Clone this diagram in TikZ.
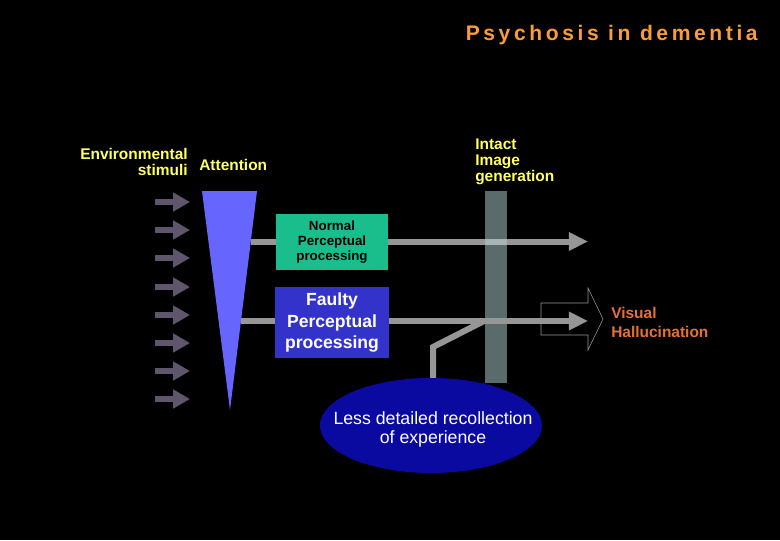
\documentclass[tikz,border=0pt]{standalone}
\usepackage{fontspec}
\setmainfont{Liberation Sans}
\newfontfamily\spacedfont[LetterSpace=17]{Liberation Sans}
\usetikzlibrary{arrows.meta,shapes.geometric}
\definecolor{titleorange}{RGB}{250,155,60}
\definecolor{hallorange}{RGB}{232,112,52}
\definecolor{labelyellow}{RGB}{255,255,102}
\definecolor{stimgray}{RGB}{95,86,110}
\definecolor{attblue}{RGB}{102,102,255}
\definecolor{normalgreen}{RGB}{26,190,140}
\definecolor{faultyblue}{RGB}{51,51,204}
\definecolor{linegray}{RGB}{150,150,150}
\definecolor{crossgray}{RGB}{170,180,180}
\definecolor{bargray}{RGB}{90,107,107}
\definecolor{recallblue}{RGB}{10,10,160}

\begin{document}
\begin{tikzpicture}[x=0.025cm,y=-0.025cm]
                    \tikzstyle{stimulus}=[line width=0.17cm,color=stimgray,-{Triangle[length=0.42cm,width=0.45cm]}]
                    \tikzstyle{pathline}=[line width=0.15cm,color=linegray]
                    \tikzstyle{patharrow}=[pathline,-{Triangle[length=0.48cm,width=0.44cm]}]
                    \tikzstyle{label}=[font=\bfseries\fontsize{11}{11.5}\selectfont,text=labelyellow,inner sep=0pt]
                    \tikzstyle{procbox}=[rectangle,inner sep=0pt,align=center]
                    \fill[black] (0,0) rectangle (780,540);
                    \useasboundingbox (0,0) rectangle (780,540);
                    \node[anchor=base east,inner sep=0pt,text=titleorange,font=\spacedfont\bfseries\fontsize{15}{17}\selectfont] (title) at (758,40) {Psychosis in dementia};
                    \node[label,align=right,anchor=east] (environment) at (188,162) {Environmental\\stimuli};
                    \node[label,anchor=west] (attention) at (199,165) {Attention};
                    \node[label,align=left,anchor=west] (intact) at (475,162) {Intact\\Image\\generation};
                    \node[label,text=hallorange,align=left,anchor=west,font=\bfseries\fontsize{11}{13.5}\selectfont] (visual) at (611,322) {Visual\\Hallucination};
                    \foreach \y [count=\i] in {202,230,258,287,315,343,371,399}
                    {
                        \coordinate (stim\i) at (155,\y);
                        \coordinate (stimend\i) at (190,\y);
                        \draw[stimulus] (stim\i) -- (stimend\i);
                    }
                    \fill[attblue] (202,191) -- (257,191) -- (230,410) -- cycle;
                    \coordinate (attn normal) at (251,241.5);
                    \coordinate (attn faulty) at (241,321);
                    \node[procbox,fill=normalgreen,minimum width=2.8cm,minimum height=1.4cm,font=\bfseries\fontsize{9.5}{10.7}\selectfont] (normal) at (332,242) {Normal\\Perceptual\\processing};
                    \node[procbox,fill=faultyblue,text=white,minimum width=2.85cm,minimum height=1.78cm,font=\bfseries\fontsize{12.5}{15.5}\selectfont] (faulty) at (332,322.5) {Faulty\\Perceptual\\processing};
                    \node[rectangle,fill=bargray,minimum width=0.55cm,minimum height=4.8cm,inner sep=0pt] (imagebar) at (496,287) {};
                    \coordinate (normal end) at (588,241.5);
                    \coordinate (faulty end) at (588,321);
                    \coordinate (recall top) at (433,386);
                    \coordinate (recall bend) at (433,347);
                    \coordinate (recall join) at (484,321);
                    \draw[pathline] (attn normal) -- (attn normal -| normal.west);
                    \draw[patharrow] (normal.east |- normal end) -- (normal end);
                    \fill[crossgray] (485,238.5) rectangle (507,244.5);
                    \draw[pathline] (attn faulty) -- (attn faulty -| faulty.west);
                    \draw[patharrow] (faulty.east |- faulty end) -- (faulty end);
                    \draw[pathline] (recall top) -- (recall bend) -- (recall join);
                    \draw[linegray,line width=0.4pt] (541,303) -- (588,303) -- (588,288) -- (603,319) -- (588,350) -- (588,335) -- (541,335) -- cycle;
                    \node[ellipse,fill=recallblue,minimum width=5.55cm,minimum height=2.375cm,inner sep=0pt] (recall) at (431,425.5) {};
                    \node[text=white,align=center,inner sep=0pt,font=\fontsize{12.6}{13}\selectfont] (recall text) at (433,429.5) {Less detailed recollection\\of experience};
                \end{tikzpicture}
\end{document}
